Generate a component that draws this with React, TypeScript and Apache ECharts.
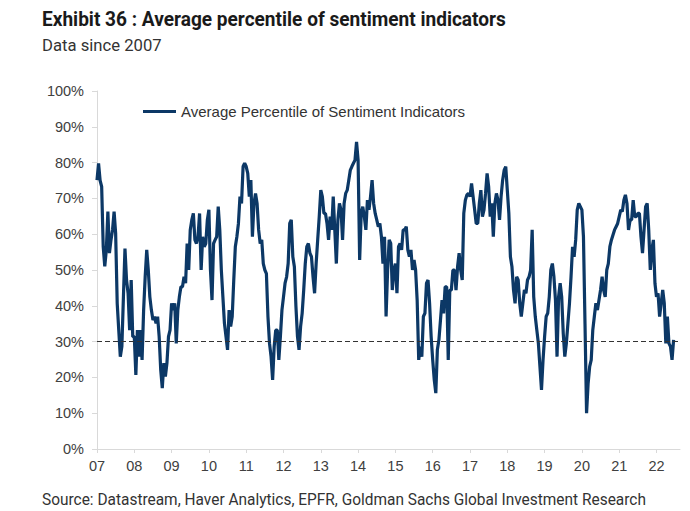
import React, { useEffect, useRef } from "react";
import * as echarts from "echarts";

const titleText = "Exhibit 36 : Average percentile of sentiment indicators";
const subtitleText = "Data since 2007";
const sourceText = "Source: Datastream, Haver Analytics, EPFR, Goldman Sachs Global Investment Research";
const seriesName = "Average Percentile of Sentiment Indicators";

const startYear = 2007;
const stepsPerYear = 24; // semi-monthly readings
const xTickYears = [2007, 2008, 2009, 2010, 2011, 2012, 2013, 2014, 2015, 2016, 2017, 2018, 2019, 2020, 2021, 2022];
const xTickLabels = ["07", "08", "09", "10", "11", "12", "13", "14", "15", "16", "17", "18", "19", "20", "21", "22"];
const threshold = 30;

const y2007 = [75.1, 79.8, 75, 73.3, 56.5, 51, 55.6, 66.3, 54.7, 58.4, 61.2, 66.3, 60.2, 40.7, 33.2, 25.8, 28.6, 42.5, 56, 47.2, 43.5, 33.2, 47.2, 31.4];
const y2008 = [31.4, 20.7, 33.2, 25.8, 33.2, 24.9, 38.8, 48.1, 55.6, 50, 42.5, 38.8, 36, 37, 35.1, 37, 31.4, 22.1, 17, 24, 20.2, 24, 31.4, 33.2];
const y2009 = [40.7, 38.8, 40.7, 29.5, 38.8, 42.5, 45.3, 45.3, 48.1, 46.3, 57.4, 50, 61.2, 64, 65.8, 58.4, 57.4, 59.3, 65.8, 50, 59.3, 56.5, 57.4, 64];
const y2010 = [66.8, 50, 41.6, 57.4, 58.4, 59.3, 67.7, 61.2, 50, 42.5, 35.1, 31.4, 27.7, 38.8, 34.2, 37, 47.2, 56.5, 59.3, 63, 70.5, 68.6, 78.9, 79.8];
const y2011 = [78.9, 77, 70.5, 75.1, 59.3, 68.6, 71.4, 68.6, 61.2, 57.4, 58.4, 51.8, 50, 49, 37, 29.5, 25.8, 19.3, 28.6, 33.2, 33.2, 24.9, 31.4, 38.8];
const y2012 = [42.5, 46.3, 48.1, 51.8, 63, 64, 53.7, 50.9, 39.8, 31.4, 27.7, 34.2, 37.9, 44.4, 51.8, 56.5, 57.4, 54.7, 53.7, 48.1, 43.5, 51.8, 58.4, 64.9];
const y2013 = [72.3, 70.5, 65.8, 65.8, 63, 58.4, 64.9, 61.2, 70.5, 61.2, 51.8, 64, 68.6, 66.8, 58.4, 68.6, 71.4, 72.3, 75.1, 77.9, 78.9, 79.8, 80.7, 85.8];
const y2014 = [80.7, 52.8, 65.8, 67.7, 64.9, 61.2, 69.5, 66.8, 70.5, 75.1, 68.6, 65.8, 64, 62.1, 63, 59.3, 51.8, 59.3, 37, 50, 58.4, 57.4, 44.4, 50];
const y2015 = [51.8, 43.5, 56.5, 57.4, 55.6, 61.2, 61.2, 62.1, 55.6, 53.7, 55.6, 50, 52.8, 50, 41.6, 24.9, 28.6, 25.8, 37, 37.9, 46.3, 47.2, 40.7, 31.4];
const y2016 = [24.9, 19.3, 15.6, 27.7, 30.5, 36, 41.6, 37.9, 45.3, 45.3, 24.9, 44.4, 44.4, 50, 50, 44.4, 50.9, 54.7, 50, 47.2, 65.8, 69.5, 71, 71.4];
const y2017 = [70.5, 74.2, 70.5, 66.8, 63, 63, 68.6, 72.3, 64.9, 66.8, 71.4, 77, 73.3, 64.9, 68.6, 59.3, 68.6, 71.4, 69.5, 64, 70.5, 75.1, 77.9, 78.9];
const y2018 = [72.3, 65.8, 53.7, 50.9, 44.4, 40.7, 48.1, 47.2, 40.7, 37, 40.7, 44.4, 43.5, 47.2, 48.1, 50, 61.2, 42.5, 37, 33.2, 29.5, 23, 16.5, 24.9];
const y2019 = [31.4, 37, 37.9, 42.5, 50, 51.8, 48.1, 41.6, 25.8, 42.5, 46.3, 42.5, 32.3, 25.8, 29.5, 35.1, 40.7, 48.1, 56.5, 53.7, 58.4, 66.8, 68.6, 67.7];
const y2020 = [66.8, 59.3, 35, 10, 18.3, 23, 24.9, 33.2, 37, 40.7, 38.8, 41.6, 44.4, 48.1, 44.4, 42.5, 50, 51.8, 56.5, 58.4, 59.8, 61.2, 62.1, 63];
const y2021 = [64.9, 66.8, 66.3, 69.5, 71, 68.6, 61.2, 64, 64, 69.5, 64.9, 64.9, 65.8, 65.8, 59.3, 54.7, 61.2, 67.7, 68.6, 61.2, 50, 55.6, 58.4, 46.3];
const y2022 = [42.5, 43.5, 37, 40.7, 44.4, 40.7, 29.5, 37, 29.5, 28.6, 24.9, 30.5];

const yearlyValues = [y2007, y2008, y2009, y2010, y2011, y2012, y2013, y2014, y2015, y2016, y2017, y2018, y2019, y2020, y2021, y2022];

function buildSeries(): [number, number][] {
  const out: [number, number][] = [];
  yearlyValues.forEach((arr, yi) => {
    arr.forEach((v, k) => {
      out.push([startYear + yi + k / stepsPerYear, v]);
    });
  });
  return out;
}

const TEXT_FONT = "Roboto, 'Noto Sans', sans-serif";
const AXIS_FONT = "'Liberation Sans', Arial, sans-serif";

export default function App() {
  const ref = useRef<HTMLDivElement>(null);

  useEffect(() => {
    if (!ref.current) return;
    const chart = echarts.init(ref.current, undefined, { renderer: "svg" });
    const data = buildSeries();
    chart.setOption({
      animation: false,
      backgroundColor: "#ffffff",
      grid: { left: 97, right: 10, top: 91, bottom: 62, containLabel: false },
      legend: {
        show: true,
        left: 143,
        top: 104,
        padding: 0,
        icon: "rect",
        itemWidth: 33,
        itemHeight: 3,
        textStyle: { fontFamily: AXIS_FONT, fontSize: 15, color: "#333333" },
        data: [seriesName],
      },
      xAxis: {
        type: "value",
        min: 2007,
        max: 2022.63,
        interval: 1,
        axisLine: { show: true, lineStyle: { color: "#d9d9d9", width: 1 } },
        axisTick: { show: true, length: 4, lineStyle: { color: "#d9d9d9" }, customValues: xTickYears },
        axisLabel: {
          customValues: xTickYears,
          margin: 9,
          fontFamily: AXIS_FONT,
          fontSize: 14.5,
          color: "#404040",
          formatter: (v: number) => {
            const i = xTickYears.indexOf(Math.round(v));
            return i >= 0 ? xTickLabels[i] : "";
          },
        },
        splitLine: { show: false },
      },
      yAxis: {
        type: "value",
        min: 0,
        max: 100,
        interval: 10,
        axisLine: { show: true, lineStyle: { color: "#d9d9d9", width: 1 } },
        axisTick: { show: true, length: 5, lineStyle: { color: "#d9d9d9" } },
        axisLabel: {
          margin: 13,
          fontFamily: AXIS_FONT,
          fontSize: 14.5,
          color: "#404040",
          formatter: "{value}%",
        },
        splitLine: { show: false },
      },
      series: [
        {
          name: seriesName,
          type: "line",
          data,
          showSymbol: false,
          symbol: "none",
          lineStyle: { color: "#0c3866", width: 3.2 },
          itemStyle: { color: "#0c3866" },
          markLine: {
            silent: true,
            symbol: "none",
            label: { show: false },
            lineStyle: { color: "#333333", type: [5, 3], width: 1 },
            data: [{ yAxis: threshold }],
          },
        },
      ],
      graphic: [
        {
          type: "text",
          x: 42,
          y: 19,
          scaleX: 0.954,
          style: {
            text: titleText,
            font: `bold 20px ${TEXT_FONT}`,
            fill: "#1a1a1a",
            textAlign: "left",
            textVerticalAlign: "middle",
          },
        },
        {
          type: "text",
          x: 42,
          y: 45,
          scaleX: 0.98,
          style: {
            text: subtitleText,
            font: `17px ${TEXT_FONT}`,
            fill: "#333333",
            textAlign: "left",
            textVerticalAlign: "middle",
          },
        },
        {
          type: "text",
          x: 42,
          y: 499,
          scaleX: 0.909,
          style: {
            text: sourceText,
            font: `17px ${TEXT_FONT}`,
            fill: "#333333",
            textAlign: "left",
            textVerticalAlign: "middle",
          },
        },
      ],
    });
    return () => chart.dispose();
  }, []);

  return (
    <div
      ref={ref}
      style={{ position: "fixed", left: 0, top: 0, width: 690, height: 511, background: "#fff" }}
    />
  );
}
